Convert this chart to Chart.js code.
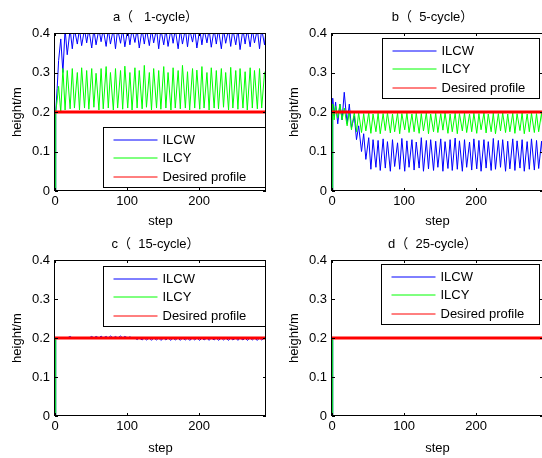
<!DOCTYPE html>
<html>
<head>
<meta charset="utf-8">
<script src="https://cdn.jsdelivr.net/npm/chart.js@4.4.1/dist/chart.umd.min.js"></script>
<style>
  html, body { margin: 0; padding: 0; background: #fff; }
  body { width: 542px; height: 458px; position: relative; overflow: hidden; }
  .panel { position: absolute; }
</style>
</head>
<body>
<div class="panel" style="left:0;top:0"><canvas id="chartA" width="271" height="229"></canvas></div>
<div class="panel" style="left:277px;top:0"><canvas id="chartB" width="271" height="229"></canvas></div>
<div class="panel" style="left:0;top:227px"><canvas id="chartC" width="271" height="229"></canvas></div>
<div class="panel" style="left:277px;top:227px"><canvas id="chartD" width="271" height="229"></canvas></div>
<script>
// step positions (turning points of the oscillation)
const steps = [0, 1, 3, 5, 8, 11, 14, 17, 21, 24, 27, 31, 34, 37, 41, 44, 47, 51, 54, 57,
  61, 64, 67, 71, 74, 77, 81, 84, 87, 91, 94, 97, 101, 104, 107, 111, 114, 117, 121, 124,
  127, 131, 134, 137, 141, 144, 147, 151, 154, 157, 161, 164, 167, 171, 174, 177, 181, 184, 187, 191,
  194, 197, 201, 204, 207, 211, 214, 217, 221, 224, 227, 231, 234, 237, 241, 244, 247, 251, 254, 257,
  261, 264, 267, 271, 274, 277, 281, 284, 287, 291, 293];
const flatSteps = [0, 1, 293];
const desiredSteps = [0, 293];
const desired = [0.2, 0.2];

// a (1-cycle)
const blueA = [0, 0.2, 0.26, 0.33, 0.385, 0.3, 0.41, 0.345, 0.41, 0.36,
  0.41, 0.372, 0.41, 0.368, 0.41, 0.375, 0.41, 0.362, 0.41, 0.37,
  0.41, 0.378, 0.41, 0.366, 0.41, 0.372, 0.41, 0.36, 0.41, 0.374,
  0.41, 0.365, 0.41, 0.37, 0.41, 0.376, 0.41, 0.362, 0.41, 0.372,
  0.41, 0.368, 0.41, 0.375, 0.41, 0.36, 0.41, 0.37, 0.41, 0.366,
  0.41, 0.374, 0.41, 0.36, 0.41, 0.372, 0.41, 0.365, 0.41, 0.377,
  0.41, 0.362, 0.41, 0.37, 0.41, 0.375, 0.41, 0.364, 0.41, 0.372,
  0.41, 0.36, 0.41, 0.374, 0.41, 0.366, 0.41, 0.37, 0.41, 0.358,
  0.41, 0.372, 0.41, 0.365, 0.41, 0.375, 0.41, 0.36, 0.41, 0.37,
  0.405];
const greenA = [0, 0.2, 0.23, 0.265, 0.2, 0.31, 0.205, 0.305, 0.208, 0.31,
  0.21, 0.3, 0.205, 0.312, 0.21, 0.305, 0.207, 0.31, 0.212, 0.298,
  0.205, 0.31, 0.208, 0.315, 0.21, 0.3, 0.205, 0.31, 0.21, 0.305,
  0.207, 0.316, 0.21, 0.3, 0.205, 0.312, 0.21, 0.305, 0.208, 0.318,
  0.212, 0.3, 0.205, 0.31, 0.21, 0.305, 0.207, 0.315, 0.21, 0.3,
  0.205, 0.312, 0.21, 0.305, 0.208, 0.318, 0.21, 0.302, 0.205, 0.31,
  0.21, 0.306, 0.207, 0.315, 0.21, 0.3, 0.205, 0.312, 0.21, 0.305,
  0.208, 0.31, 0.212, 0.3, 0.205, 0.313, 0.21, 0.305, 0.207, 0.31,
  0.21, 0.302, 0.205, 0.312, 0.21, 0.305, 0.208, 0.31, 0.21, 0.3,
  0.305];

// b (5-cycle)
const blueB = [0, 0.235, 0.19, 0.225, 0.17, 0.22, 0.18, 0.25, 0.17, 0.22,
  0.16, 0.19, 0.13, 0.165, 0.1, 0.145, 0.08, 0.135, 0.055, 0.13,
  0.06, 0.128, 0.052, 0.132, 0.058, 0.125, 0.05, 0.13, 0.062, 0.122,
  0.055, 0.133, 0.05, 0.127, 0.06, 0.13, 0.053, 0.124, 0.058, 0.135,
  0.05, 0.128, 0.056, 0.13, 0.052, 0.126, 0.06, 0.132, 0.05, 0.125,
  0.057, 0.13, 0.052, 0.134, 0.055, 0.127, 0.05, 0.13, 0.06, 0.124,
  0.053, 0.132, 0.056, 0.128, 0.05, 0.13, 0.058, 0.125, 0.052, 0.133,
  0.055, 0.128, 0.06, 0.13, 0.05, 0.126, 0.056, 0.132, 0.052, 0.127,
  0.058, 0.13, 0.05, 0.125, 0.055, 0.132, 0.053, 0.128, 0.057, 0.126,
  0.075];
const greenB = [0, 0.22, 0.18, 0.215, 0.185, 0.22, 0.18, 0.21, 0.165, 0.2,
  0.155, 0.2, 0.15, 0.198, 0.148, 0.196, 0.152, 0.198, 0.146, 0.195,
  0.15, 0.197, 0.145, 0.196, 0.153, 0.198, 0.147, 0.195, 0.15, 0.197,
  0.145, 0.196, 0.155, 0.198, 0.148, 0.195, 0.15, 0.197, 0.146, 0.196,
  0.152, 0.198, 0.145, 0.195, 0.15, 0.197, 0.148, 0.196, 0.154, 0.198,
  0.146, 0.195, 0.15, 0.197, 0.145, 0.196, 0.152, 0.198, 0.148, 0.195,
  0.15, 0.197, 0.146, 0.196, 0.155, 0.198, 0.147, 0.195, 0.15, 0.197,
  0.145, 0.196, 0.152, 0.198, 0.148, 0.195, 0.15, 0.197, 0.146, 0.196,
  0.153, 0.198, 0.145, 0.195, 0.15, 0.197, 0.148, 0.196, 0.15, 0.198,
  0.16];

// c (15-cycle)
const blueC = [0, 0.2, 0.2, 0.2, 0.2, 0.2, 0.201, 0.2, 0.204, 0.2,
  0.2, 0.2, 0.2, 0.2, 0.201, 0.2, 0.2, 0.204, 0.2, 0.204,
  0.2, 0.205, 0.2, 0.204, 0.2, 0.205, 0.2, 0.204, 0.2, 0.205,
  0.2, 0.204, 0.2, 0.203, 0.2, 0.2, 0.196, 0.2, 0.195, 0.2,
  0.195, 0.2, 0.194, 0.2, 0.195, 0.2, 0.194, 0.2, 0.195, 0.2,
  0.194, 0.2, 0.195, 0.2, 0.194, 0.2, 0.195, 0.2, 0.194, 0.2,
  0.195, 0.2, 0.194, 0.2, 0.195, 0.2, 0.194, 0.2, 0.195, 0.2,
  0.194, 0.2, 0.195, 0.2, 0.194, 0.2, 0.195, 0.2, 0.194, 0.2,
  0.195, 0.2, 0.194, 0.2, 0.195, 0.2, 0.194, 0.2, 0.195, 0.2,
  0.195];
const greenC = [0, 0.2, 0.2];

// d (25-cycle)
const blueD = [0, 0.2, 0.2];
const greenD = [0, 0.2, 0.2];

const yTickValues = [0, 0.1, 0.2, 0.3, 0.4];
const xTickValues = [0, 100, 200];
const legendLabels = ['ILCW', 'ILCY', 'Desired profile'];
const seriesColors = ['#0000ff', '#00ff00', '#ff0000'];
const FONT = '"Liberation Sans", Arial, "Noto Sans CJK SC", sans-serif';

function toPoints(xs, ys) {
    return ys.map((y, i) => ({ x: xs[i], y: y }));
}

// box, inward ticks, title and legend in the matlab look
const matlabFrame = {
    id: 'matlabFrame',
    afterDatasetsDraw(chart, args, opts) {
        const { ctx, chartArea: a, scales } = chart;
        ctx.save();
        ctx.strokeStyle = '#000';
        ctx.lineWidth = 1;
        ctx.beginPath();
        yTickValues.forEach(v => {
            const y = Math.round(scales.y.getPixelForValue(v)) + 0.5;
            ctx.moveTo(a.left, y); ctx.lineTo(a.left + 3, y);
            ctx.moveTo(a.right, y); ctx.lineTo(a.right - 3, y);
        });
        xTickValues.forEach(v => {
            const x = Math.round(scales.x.getPixelForValue(v)) + 0.5;
            ctx.moveTo(x, a.bottom); ctx.lineTo(x, a.bottom - 3);
            ctx.moveTo(x, a.top); ctx.lineTo(x, a.top + 3);
        });
        ctx.stroke();
        ctx.strokeRect(Math.round(a.left) - 0.5, Math.round(a.top) + 0.5,
            Math.round(a.right - a.left), Math.round(a.bottom - a.top) - 1);

        // title
        ctx.fillStyle = '#000';
        ctx.font = '13px ' + FONT;
        ctx.textAlign = 'center';
        ctx.textBaseline = 'middle';
        ctx.fillText(opts.title, (a.left + a.right) / 2 - 5, a.top - 16);

        // legend
        const lp = opts.legendPos;
        const lx = Math.round(a.left + lp.dx) + 0.5;
        const ly = Math.round(a.top + lp.dy) + 0.5;
        ctx.fillStyle = '#fff';
        ctx.fillRect(lx, ly, lp.w, 60);
        ctx.strokeStyle = '#000';
        ctx.strokeRect(lx, ly, lp.w, 60);
        ctx.textAlign = 'left';
        legendLabels.forEach((t, i) => {
            const yy = Math.round(ly + 12 + i * 18.5);
            ctx.strokeStyle = seriesColors[i];
            ctx.beginPath();
            ctx.moveTo(lx + 10, yy);
            ctx.lineTo(lx + 54, yy);
            ctx.stroke();
            ctx.fillStyle = '#000';
            ctx.fillText(t, lx + 59, yy + 0.5);
        });
        ctx.restore();
    }
};

function makePanel(id, title, blue, blueSteps, green, greenSteps, legendPos, xAxisHeight) {
    const ctx = document.getElementById(id).getContext('2d');
    new Chart(ctx, {
        type: 'line',
        data: {
            datasets: [
                { label: legendLabels[0], data: toPoints(blueSteps, blue), borderColor: seriesColors[0], borderWidth: 1, order: 2 },
                { label: legendLabels[1], data: toPoints(greenSteps, green), borderColor: seriesColors[1], borderWidth: 1, order: 1 },
                { label: legendLabels[2], data: toPoints(desiredSteps, desired), borderColor: seriesColors[2], borderWidth: 3, order: 0 }
            ]
        },
        options: {
            responsive: false,
            animation: false,
            elements: { point: { radius: 0 }, line: { tension: 0, fill: false } },
            layout: { padding: { top: 33, right: 5, left: 0, bottom: 0 } },
            scales: {
                x: {
                    type: 'linear',
                    min: 0,
                    max: 293,
                    afterBuildTicks: s => { s.ticks = xTickValues.map(v => ({ value: v })); },
                    afterFit: s => { s.height = xAxisHeight; },
                    ticks: { padding: 3, maxRotation: 0, color: '#000', font: { family: FONT, size: 13 } },
                    grid: { display: false, drawTicks: false },
                    border: { display: false },
                    title: { display: true, text: 'step', color: '#000', font: { family: FONT, size: 13 }, padding: { top: 0, bottom: 0 } }
                },
                y: {
                    min: 0,
                    max: 0.4,
                    afterBuildTicks: s => { s.ticks = yTickValues.map(v => ({ value: v })); },
                    afterFit: s => { s.width = 55; },
                    ticks: { padding: 5, color: '#000', font: { family: FONT, size: 13 } },
                    grid: { display: false, drawTicks: false },
                    border: { display: false },
                    title: { display: true, text: 'height/m', color: '#000', font: { family: FONT, size: 13 }, padding: { top: 10, bottom: 0 } }
                }
            },
            plugins: {
                legend: { display: false },
                tooltip: { enabled: false },
                matlabFrame: { title: title, legendPos: legendPos }
            }
        },
        plugins: [matlabFrame]
    });
}

makePanel('chartA', 'a（   1-cycle）', blueA, steps, greenA, steps, { dx: 48, dy: 94, w: 162 }, 38);
makePanel('chartB', 'b（  5-cycle）', blueB, steps, greenB, steps, { dx: 50, dy: 5, w: 157 }, 38);
makePanel('chartC', 'c（  15-cycle）', blueC, steps, greenC, flatSteps, { dx: 48, dy: 6, w: 162 }, 40);
makePanel('chartD', 'd（  25-cycle）', blueD, flatSteps, greenD, flatSteps, { dx: 49, dy: 4, w: 158 }, 40);
</script>
</body>
</html>
